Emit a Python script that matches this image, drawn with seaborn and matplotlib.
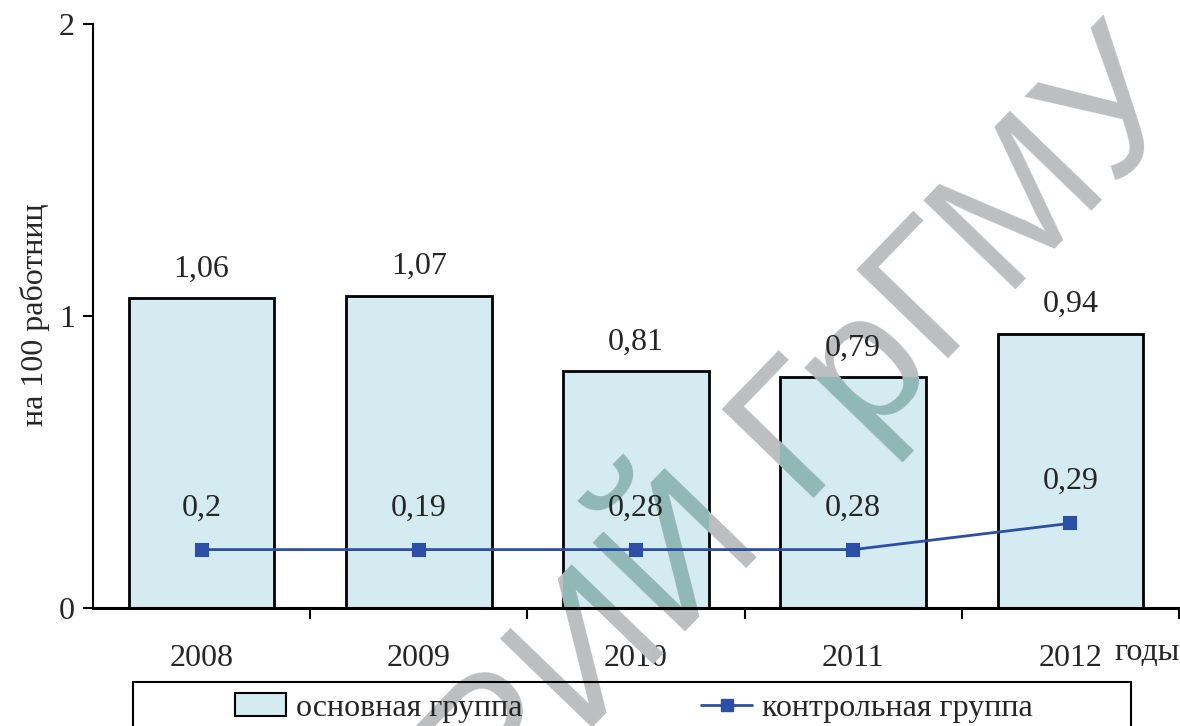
# -*- coding: utf-8 -*-
# Bar + line chart: main group vs control group per 100 workers
import matplotlib
matplotlib.use("Agg")
import matplotlib.pyplot as plt
import matplotlib.patches as mpatches
from matplotlib.lines import Line2D
import pandas as pd
import seaborn as sns

# %% Data
years = ['2008', '2009', '2010', '2011', '2012']
main_group = [1.06, 1.07, 0.81, 0.79, 0.94]
control_group = [0.2, 0.2, 0.2, 0.2, 0.29]          # as drawn on the chart
control_labels = ['0,2', '0,19', '0,28', '0,28', '0,29']  # as printed on the chart
y_ticks = [0, 1, 2]

bar_color = '#D3EBF1'
line_color = '#2C4FA5'
wm_grey = '#BDBEC0'
wm_teal = '#90B8B6'

df = pd.DataFrame({'year': years, 'main': main_group, 'control': control_group})

# %% Figure
sns.set_theme(style="white")
plt.rcParams['font.family'] = ['Liberation Serif', 'DejaVu Serif']
fs = 23

W, H = 1180, 726
fig = plt.figure(figsize=(W / 100, H / 100), dpi=100)
ax = fig.add_axes([93 / W, 1 - 608 / H, (1179 - 93) / W, (608 - 24) / H])

sns.barplot(data=df, x='year', y='main', color=bar_color, saturation=1,
            edgecolor='black', linewidth=2, width=0.67, ax=ax, zorder=1)
bars = list(ax.patches)
sns.pointplot(data=df, x='year', y='control', color=line_color, marker='s',
              markersize=9, linewidth=2, ax=ax, zorder=3)

# value labels
for i, v in enumerate(main_group):
    ax.annotate(f"{v:.2f}".replace('.', ','), (i, v), xytext=(0, 21),
                textcoords='offset points', ha='center', va='center', fontsize=fs, zorder=4)
for i, v in enumerate(control_group):
    ax.annotate(control_labels[i], (i, v), xytext=(0, 30),
                textcoords='offset points', ha='center', va='center', fontsize=fs, zorder=4)

# axes styling
ax.set_xlim(-0.5, 4.5)
ax.set_ylim(0, 2)
ax.set_yticks(y_ticks)
ax.set_yticklabels([str(t) for t in y_ticks])
ax.set_xlabel('')
ax.set_ylabel('')
ax.set_xticks(range(len(years)))
ax.set_xticklabels(years)
ax.set_xticks([i + 0.5 for i in range(len(years))], minor=True)
ax.tick_params(axis='x', which='major', length=0, pad=26, labelsize=fs)
ax.tick_params(axis='x', which='minor', length=8, width=1.5, direction='out', color='black', bottom=True)
ax.tick_params(axis='y', length=7, width=1.5, direction='out', color='black', pad=6, labelsize=fs, left=True)
for s in ['top', 'right']:
    ax.spines[s].set_visible(False)
ax.spines['left'].set_linewidth(1.5)
ax.spines['bottom'].set_linewidth(2.2)
ax.spines['left'].set_color('black')
ax.spines['bottom'].set_color('black')

fig.text(35 / W, 1 - 315 / H, 'на 100 работниц', rotation=90, ha='center', va='center', fontsize=fs)
fig.text(1114 / W, 1 - 652 / H, 'годы', ha='left', va='center', fontsize=fs)

# watermark (grey, teal where it lies over bars)
wm_kw = dict(transform=fig.transFigure, rotation=46, rotation_mode='anchor', ha='right',
             va='baseline', fontsize=134, family='Liberation Sans')
wm_xy = (1195 / W, 1 - 103 / H)
ax.text(*wm_xy, 'РЕПОЗИТОРИЙ ГрГМУ', color=wm_grey, zorder=1.5, clip_on=False, **wm_kw)
for b in bars:
    t = ax.text(*wm_xy, 'РЕПОЗИТОРИЙ ГрГМУ', color=wm_teal, zorder=1.6, clip_on=True, **wm_kw)
    t.set_clip_path(b)

# legend
handles = [mpatches.Patch(facecolor=bar_color, edgecolor='black', linewidth=1.5),
           Line2D([], [], color=line_color, marker='s', markersize=9, linewidth=2)]
fig.legend(handles, ['основная группа', 'контрольная группа'], ncol=2, loc='center',
           bbox_to_anchor=(634 / W, 1 - 708 / H), frameon=False, fontsize=fs,
           handlelength=1.6, handletextpad=0.3, columnspacing=5.6)
fig.add_artist(mpatches.Rectangle((133 / W, 1 - 745 / H), (1131 - 133) / W, (745 - 682) / H,
                                  transform=fig.transFigure, facecolor='none',
                                  edgecolor='black', linewidth=1.5))

fig.savefig('out.png', dpi=100)
